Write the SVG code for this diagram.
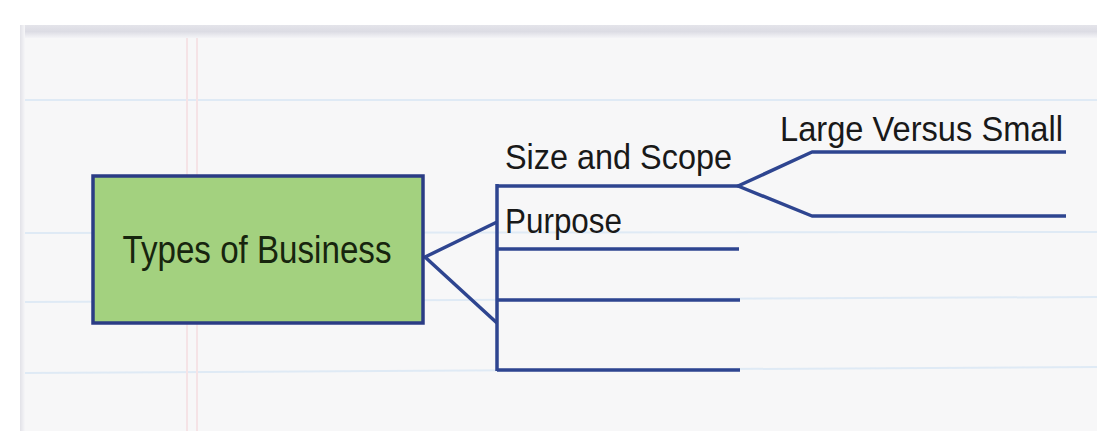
<svg xmlns="http://www.w3.org/2000/svg" width="1097" height="433" viewBox="0 0 1097 433">
  <defs>
    <linearGradient id="paperTop" x1="0" y1="0" x2="0" y2="1">
      <stop offset="0" stop-color="#e4e4ea"/>
      <stop offset="0.5" stop-color="#dcdce4"/>
      <stop offset="1" stop-color="#f4f4f7"/>
    </linearGradient>
    <linearGradient id="paperLeft" x1="0" y1="0" x2="1" y2="0">
      <stop offset="0" stop-color="#e2e2e8"/>
      <stop offset="1" stop-color="#f6f6f8"/>
    </linearGradient>
    <style>
      .rule { stroke: #dfeaf5; stroke-width: 2; fill: none; }
      .margin { stroke: #f5e3e6; stroke-width: 2; fill: none; }
      .branch { stroke: #2e4590; stroke-width: 3.5; fill: none; stroke-linejoin: round; stroke-linecap: butt; }
      .label { font-family: "Liberation Sans", Arial, sans-serif; font-size: 35px; fill: #191919; }
      .boxText { font-family: "Liberation Sans", Arial, sans-serif; font-size: 38px; fill: #17250e; }
    </style>
  </defs>

  <!-- page background -->
  <rect x="0" y="0" width="1097" height="433" fill="#ffffff"/>

  <!-- notebook paper -->
  <g id="paper">
    <rect x="20" y="25" width="1090" height="406" rx="6" fill="#f7f7f8"/>
    <rect x="20" y="25" width="1090" height="13" fill="url(#paperTop)"/>
    <rect x="20" y="25" width="5" height="406" fill="url(#paperLeft)"/>
    <line class="rule" x1="25" y1="100" x2="1097" y2="100"/>
    <line class="rule" x1="25" y1="233" x2="1097" y2="232"/>
    <line class="rule" x1="25" y1="302" x2="1097" y2="297"/>
    <line class="rule" x1="25" y1="373" x2="1097" y2="367"/>
    <line class="margin" x1="187" y1="38" x2="187" y2="431"/>
    <line class="margin" x1="197" y1="38" x2="197" y2="431"/>
  </g>

  <!-- connectors -->
  <g id="connectors">
    <!-- central topic to bracket -->
    <polyline class="branch" points="497,222 425,257 497,323"/>
    <line class="branch" x1="497" y1="184" x2="497" y2="371"/>
    <line class="branch" x1="497" y1="186" x2="740" y2="186"/>
    <line class="branch" x1="497" y1="249" x2="739" y2="249"/>
    <line class="branch" x1="497" y1="300" x2="740" y2="300"/>
    <line class="branch" x1="497" y1="370" x2="740" y2="370"/>
    <!-- Size and Scope sub-branches -->
    <polyline class="branch" points="1066,152 812,152 738,186 812,216 1066,216"/>
  </g>

  <!-- central topic -->
  <g id="node-types-of-business">
    <rect x="93" y="176" width="330" height="147" fill="#a3d17f" stroke="#2b3c85" stroke-width="3.5"/>
    <text class="boxText" x="257" y="263" text-anchor="middle" textLength="269" lengthAdjust="spacingAndGlyphs">Types of Business</text>
  </g>

  <g id="node-size-and-scope">
    <text class="label" x="505" y="169" textLength="227" lengthAdjust="spacingAndGlyphs">Size and Scope</text>
  </g>

  <g id="node-purpose">
    <text class="label" x="505" y="233" textLength="117" lengthAdjust="spacingAndGlyphs">Purpose</text>
  </g>

  <g id="node-large-versus-small">
    <text class="label" x="780" y="141" textLength="283" lengthAdjust="spacingAndGlyphs">Large Versus Small</text>
  </g>
</svg>
